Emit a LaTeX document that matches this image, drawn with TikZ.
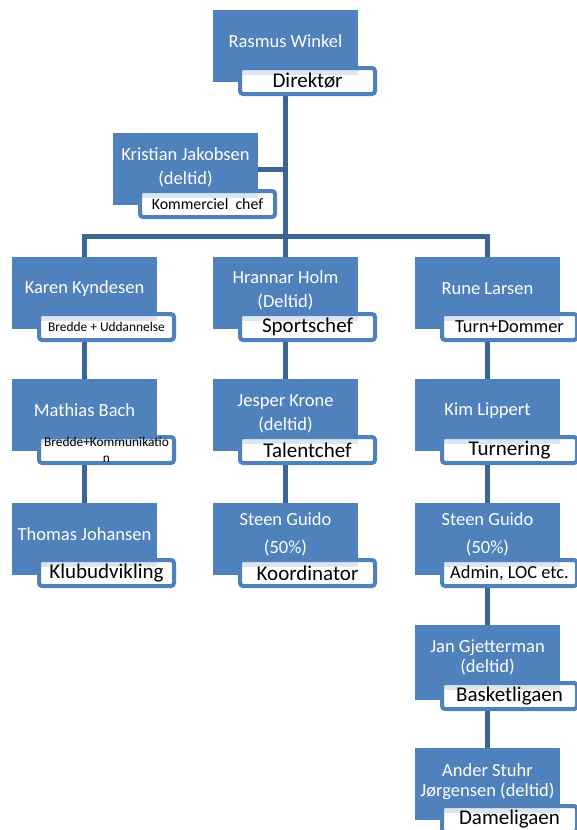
\documentclass[tikz,border=0pt]{standalone}
\usepackage{fontspec}
\setmainfont{Carlito}
\usetikzlibrary{backgrounds}
\definecolor{boxblue}{HTML}{4F81BD}
\definecolor{lineblue}{HTML}{3C6494}
\definecolor{bandblue}{HTML}{DCE6F2}
\tikzset{
  mainbox/.style={fill=boxblue, draw=none, anchor=north west, minimum width=145pt,
    minimum height=72pt, inner sep=0pt, outer sep=0pt},
  nametext/.style={text=white, align=center, inner sep=0pt,
    font=\fontsize{18.5}{24}\selectfont},
  subbox/.style={fill=white, draw=boxblue, line width=4pt, rounded corners=3pt,
    anchor=north west, minimum width=135pt, minimum height=26pt, inner sep=0pt,
    outer sep=0pt, align=center, text=black,
    path picture={\fill[bandblue, sharp corners] (path picture bounding box.north west) rectangle ++(118pt,-7pt);}},
  bigsub/.style={font=\fontsize{21}{24}\selectfont},
  midsub/.style={font=\fontsize{18.4}{22}\selectfont},
  kcsub/.style={font=\fontsize{15.8}{18}\selectfont},
  smallsub/.style={font=\fontsize{13.4}{15.5}\selectfont},
  conn/.style={draw=lineblue, line width=5pt, line join=miter}
}
\begin{document}
\begin{tikzpicture}[x=1pt,y=-1pt]
\useasboundingbox (0,0) rectangle (576,830);

% ---- boxes
\node[mainbox] (rasmus) at (213,10) {};
\node[nametext] (rasmus-t) at ([yshift=4.5pt]rasmus.center) {Rasmus Winkel};
\node[subbox, bigsub] (rasmus-s) at ([xshift=27pt,yshift=-58pt]rasmus.north west) {Direktør};

\node[mainbox] (kristian) at (113,133) {};
\node[nametext] (kristian-t) at ([yshift=2pt]kristian.center) {Kristian Jakobsen\\(deltid)};
\node[subbox, kcsub] (kristian-s) at ([xshift=27pt,yshift=-58pt]kristian.north west) {Kommerciel\ \ chef};

\node[mainbox] (karen) at (12,257) {};
\node[nametext] (karen-t) at ([yshift=4.5pt]karen.center) {Karen Kyndesen};
\node[subbox, smallsub] (karen-s) at ([xshift=27pt,yshift=-57pt]karen.north west) {Bredde + Uddannelse};

\node[mainbox] (hrannar) at (213,257) {};
\node[nametext] (hrannar-t) at ([yshift=2.5pt]hrannar.center) {Hrannar Holm\\(Deltid)};
\node[subbox, bigsub] (hrannar-s) at ([xshift=27pt,yshift=-57pt]hrannar.north west) {Sportschef};

\node[mainbox] (rune) at (415,257) {};
\node[nametext] (rune-t) at ([yshift=4.5pt]rune.center) {Rune Larsen};
\node[subbox, midsub] (rune-s) at ([xshift=27pt,yshift=-57pt]rune.north west) {Turn+Dommer};

\node[mainbox] (mathias) at (12,379) {};
\node[nametext] (mathias-t) at ([yshift=4.5pt]mathias.center) {Mathias Bach};
\node[subbox, smallsub] (mathias-s) at ([xshift=27pt,yshift=-58pt]mathias.north west) {Bredde+Kommunikatio\\n};

\node[mainbox] (jesper) at (213,379) {};
\node[nametext] (jesper-t) at ([yshift=1.5pt]jesper.center) {Jesper Krone\\(deltid)};
\node[subbox, bigsub] (jesper-s) at ([xshift=27pt,yshift=-58pt]jesper.north west) {Talentchef};

\node[mainbox] (kim) at (415,379) {};
\node[nametext] (kim-t) at ([yshift=4.5pt]kim.center) {Kim Lippert};
\node[subbox, bigsub] (kim-s) at ([xshift=27pt,yshift=-58pt]kim.north west) {Turnering};

\node[mainbox] (thomas) at (12,503) {};
\node[nametext] (thomas-t) at ([yshift=5pt]thomas.center) {Thomas Johansen};
\node[subbox, bigsub] (thomas-s) at ([xshift=27pt,yshift=-57pt]thomas.north west) {Klubudvikling};

\node[mainbox] (steena) at (213,503) {};
\node[nametext, font=\fontsize{18.5}{28}\selectfont] (steena-t) at ([yshift=5pt]steena.center) {Steen Guido\\(50\%)};
\node[subbox, bigsub] (steena-s) at ([xshift=27pt,yshift=-57pt]steena.north west) {Koordinator};

\node[mainbox] (steenb) at (415,503) {};
\node[nametext, font=\fontsize{18.5}{28}\selectfont] (steenb-t) at ([yshift=5pt]steenb.center) {Steen Guido\\(50\%)};
\node[subbox, midsub] (steenb-s) at ([xshift=27pt,yshift=-57pt]steenb.north west) {Admin, LOC etc.};

\node[mainbox, minimum height=75pt] (jan) at (415,625) {};
\node[nametext, font=\fontsize{18.5}{20}\selectfont] (jan-t) at ([yshift=5pt]jan.center) {Jan Gjetterman\\(deltid)};
\node[subbox, bigsub] (jan-s) at ([xshift=27pt,yshift=-58pt]jan.north west) {Basketligaen};

\node[mainbox] (ander) at (415,748) {};
\node[nametext, font=\fontsize{18.5}{20}\selectfont] (ander-t) at ([yshift=2pt]ander.center) {Ander Stuhr\\Jørgensen (deltid)};
\node[subbox, bigsub] (ander-s) at ([xshift=27pt,yshift=-58pt]ander.north west) {Dameligaen};

\coordinate (bar) at (285.5,236);

% ---- connectors
\begin{scope}[on background layer]
\draw[conn] (rasmus.south) -- (bar);
\draw[conn] (kristian.east) -- (kristian.east -| bar);
\draw[conn] (bar) -| (karen.north);
\draw[conn] (bar) -| (rune.north);
\draw[conn] (bar) -- (hrannar.north);
\draw[conn] (karen.south) -- (mathias.north);
\draw[conn] (mathias.south) -- (thomas.north);
\draw[conn] (hrannar.south) -- (jesper.north);
\draw[conn] (jesper.south) -- (steena.north);
\draw[conn] (rune.south) -- (kim.north);
\draw[conn] (kim.south) -- (steenb.north);
\draw[conn] (steenb.south) -- (jan.north);
\draw[conn] (jan.south) -- (ander.north);
\end{scope}
\end{tikzpicture}
\end{document}
